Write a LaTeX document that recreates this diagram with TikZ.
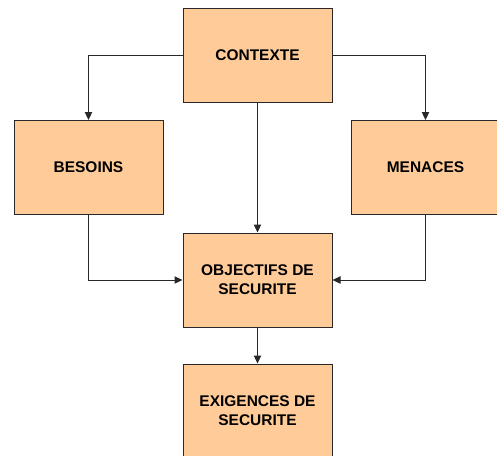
\documentclass[tikz,border=0pt]{standalone}
\usepackage{fontspec}
\setmainfont{Liberation Sans}
\usetikzlibrary{arrows.meta}

\tikzset{every picture/.style={line width=0.75pt}}
\tikzset{
  boite/.style={draw={rgb,255:red,40;green,40;blue,40}, fill={rgb,255:red,255;green,204;blue,153}, minimum width=111.75pt, minimum height=70.5pt, align=center, font=\fontsize{11.6}{14.2}\selectfont\bfseries, inner sep=0pt},
  fleche/.style={draw={rgb,255:red,40;green,40;blue,40}, -{Triangle[length=6pt,width=5.5pt]}}
}

\begin{document}
\begin{tikzpicture}[x=0.75pt,y=0.75pt,yscale=-1,xscale=1]
\useasboundingbox (0,0) rectangle (497,455);

% Boxes
\node[boite] (contexte) at (257.5,55) {CONTEXTE};
\node[boite] (besoins) at (88.5,167.5) {BESOINS};
\node[boite] (menaces) at (425.5,167.5) {MENACES};
\node[boite] (objectifs) at (257.5,280) {OBJECTIFS DE\\SECURITE};
\node[boite] (exigences) at (257.5,411) {EXIGENCES DE\\SECURITE};

% Connectors
\draw[fleche] (contexte.west) -| (besoins.north);
\draw[fleche] (contexte.east) -| (menaces.north);
\draw[fleche] (contexte.south) -- (objectifs.north);
\draw[fleche] (besoins.south) |- (objectifs.west);
\draw[fleche] (menaces.south) |- (objectifs.east);
\draw[fleche] (objectifs.south) -- (exigences.north);

\end{tikzpicture}
\end{document}
